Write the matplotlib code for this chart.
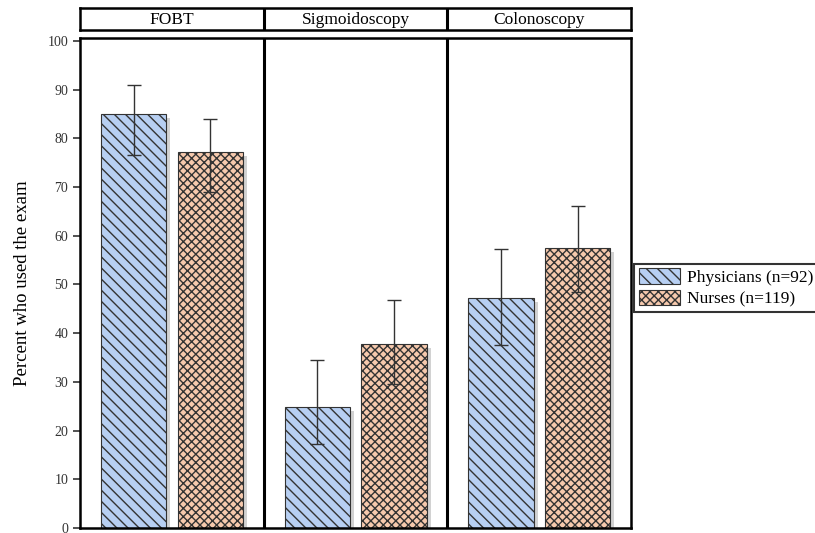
import matplotlib.pyplot as plt
import numpy as np

plt.rcParams['font.family'] = ['Liberation Serif', 'DejaVu Serif']
plt.rcParams['hatch.linewidth'] = 1.0

# data
exams = ['FOBT', 'Sigmoidoscopy', 'Colonoscopy']
groups = ['Physicians (n=92)', 'Nurses (n=119)']
physicians = [85.0, 24.8, 47.3]
phys_lo = [76.5, 17.3, 37.5]
phys_hi = [91.0, 34.5, 57.3]
nurses = [77.2, 37.8, 57.5]
nurse_lo = [69.0, 29.5, 48.5]
nurse_hi = [84.0, 46.8, 66.2]

colors = ['#b7cff2', '#f6c9ad']
hatches = ['\\\\\\', 'xxxx']
offsets = [0.292, 0.71]
width = 0.355

fig = plt.figure(figsize=(8.15, 5.33), dpi=100)
ax = fig.add_axes([80 / 815, 1 - 528 / 533, 551 / 815, 490 / 533])
hx = fig.add_axes([80 / 815, 1 - 30 / 533, 551 / 815, 22 / 533])

x = np.arange(len(exams))
series = [(physicians, phys_lo, phys_hi), (nurses, nurse_lo, nurse_hi)]
handles = []
for i, (vals, lo, hi) in enumerate(series):
    pos = x + offsets[i]
    # soft drop shadow
    ax.bar(pos + 0.022, vals, width, bottom=-0.8, color='#d2d2d2',
           edgecolor='none', zorder=1)
    b = ax.bar(pos, vals, width, color=colors[i], edgecolor='#333333',
               hatch=hatches[i], linewidth=0.8, zorder=2, label=groups[i])
    handles.append(b)
    vals = np.array(vals)
    err = [vals - np.array(lo), np.array(hi) - vals]
    ax.errorbar(pos, vals, yerr=err, fmt='none', ecolor='#333333',
                elinewidth=1.0, capsize=5, capthick=1.0, zorder=3)

for d in [1, 2]:
    ax.axvline(d, color='black', lw=2.2, zorder=4)

ax.set_xlim(0, 3)
ax.set_ylim(0, 100.6)
ax.set_yticks(np.arange(0, 101, 10))
ax.set_xticks([])
ax.tick_params(axis='y', labelsize=10, length=5, width=1.2, colors='#333333')
for s in ax.spines.values():
    s.set_linewidth(1.8)
ax.set_ylabel('Percent who used the exam', fontsize=13.5, labelpad=12)

# panel headers
hx.set_xlim(0, 3)
hx.set_ylim(0, 1)
hx.set_xticks([])
hx.set_yticks([])
for s in hx.spines.values():
    s.set_linewidth(1.8)
for i, name in enumerate(exams):
    hx.text(i + 0.5, 0.45, name, ha='center', va='center', fontsize=12.5)
for d in [1, 2]:
    hx.axvline(d, color='black', lw=2.2)

leg = ax.legend(handles=handles, labels=groups, loc='center left',
                bbox_to_anchor=(1.0, 0.49), fontsize=12.5, frameon=True,
                fancybox=False, edgecolor='black', borderpad=0.25,
                labelspacing=0.2, handlelength=2.4, handleheight=1.0,
                handletextpad=0.4, borderaxespad=0.2)
leg.get_frame().set_linewidth(1.5)

fig.savefig('out.png', dpi=100)
